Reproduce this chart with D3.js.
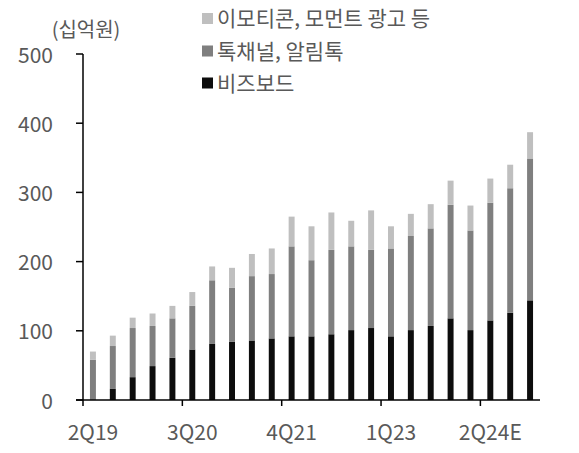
<!DOCTYPE html>
<html>
<head>
<meta charset="utf-8">
<script src="https://cdn.jsdelivr.net/npm/d3@7"></script>
<style>
  html, body { margin: 0; padding: 0; background: #fff; }
  svg { display: block; }
  text { font-family: "Noto Sans CJK KR", "Noto Sans", sans-serif; fill: #595959; }
</style>
</head>
<body>
<svg id="chart" width="579" height="453"></svg>
<script>
// ---- Data ----
const quarters = ["2Q19","3Q19","4Q19","1Q20","2Q20","3Q20","4Q20","1Q21","2Q21","3Q21","4Q21",
                  "1Q22","2Q22","3Q22","4Q22","1Q23","2Q23","3Q23","4Q23","1Q24","2Q24E","3Q24E","4Q24E"];
const bizboard = [0, 16, 33, 49, 61, 73, 81, 84, 86, 89, 92, 92, 95, 101, 104, 92, 101, 107, 118, 101, 115, 126, 144];
const talkChannel = [58, 62, 71, 58, 57, 63, 92, 78, 93, 93, 130, 110, 122, 121, 113, 127, 136, 141, 164, 144, 170, 180, 205];
const emoticon = [12, 15, 15, 18, 18, 20, 20, 29, 32, 37, 43, 49, 54, 37, 57, 32, 32, 35, 35, 36, 35, 34, 38];
const seriesNames = ["비즈보드", "톡채널, 알림톡", "이모티콘, 모먼트 광고 등"];
const yTicks = [0, 100, 200, 300, 400, 500];
const xLabelEvery = 5;
const unitLabel = "(십억원)";

// ---- Layout ----
const colors = ["#0d0d0d", "#7f7f7f", "#bfbfbf"];
const svg = d3.select("#chart");
const x0 = 83, x1 = 540, yBottom = 400, yTop = 54;

const x = d3.scaleBand().domain(quarters).range([x0, x1]).paddingInner(0.7).paddingOuter(0.35);
const y = d3.scaleLinear().domain([0, 500]).range([yBottom, yTop]);

const table = quarters.map((q, i) => ({ q, s0: bizboard[i], s1: talkChannel[i], s2: emoticon[i] }));
const stacked = d3.stack().keys(["s0", "s1", "s2"])(table);

// bars
svg.append("g").selectAll("g").data(stacked).join("g")
  .attr("fill", (d, i) => colors[i])
  .selectAll("rect").data(d => d).join("rect")
  .attr("x", d => x(d.data.q))
  .attr("width", x.bandwidth())
  .attr("y", d => y(d[1]))
  .attr("height", d => Math.max(0, y(d[0]) - y(d[1])));

// y axis
const yAxis = svg.append("g");
yAxis.append("line").attr("x1", x0).attr("x2", x0).attr("y1", y(500)).attr("y2", yBottom)
  .attr("stroke", "#000").attr("stroke-width", 1.5);
yAxis.selectAll("line.tick").data(yTicks).join("line").attr("class", "tick")
  .attr("x1", x0 - 7).attr("x2", x0).attr("y1", d => y(d)).attr("y2", d => y(d))
  .attr("stroke", "#000").attr("stroke-width", 1.5);
yAxis.selectAll("text").data(yTicks).join("text")
  .attr("x", 53).attr("y", d => y(d) + 1).attr("dy", "0.36em")
  .attr("text-anchor", "end").attr("font-size", 21).text(d => d);

// x axis
const xAxis = svg.append("g");
xAxis.append("line").attr("x1", x0 - 7).attr("x2", x1).attr("y1", yBottom).attr("y2", yBottom)
  .attr("stroke", "#000").attr("stroke-width", 1.5);
const gap = (x.step() - x.bandwidth()) / 2;
const labeled = quarters.filter((q, i) => i % xLabelEvery === 0);
xAxis.selectAll("line.tick").data(labeled).join("line").attr("class", "tick")
  .attr("x1", d => x(d) - gap).attr("x2", d => x(d) - gap)
  .attr("y1", yBottom).attr("y2", yBottom + 6)
  .attr("stroke", "#000").attr("stroke-width", 1.5);
xAxis.selectAll("text").data(labeled).join("text")
  .attr("x", d => x(d) + x.bandwidth() / 2).attr("y", 432).attr("dy", "0.36em")
  .attr("text-anchor", "middle").attr("font-size", 21).text(d => d);

// unit label
svg.append("text").attr("x", 86).attr("y", 30).attr("dy", "0.36em")
  .attr("text-anchor", "middle").attr("font-size", 20).text(unitLabel);

// legend (top to bottom: emoticon, talk channel, bizboard)
const legendRows = [2, 1, 0];
const legendY = [18.5, 51, 83];
const lg = svg.append("g");
legendRows.forEach((si, r) => {
  lg.append("rect").attr("x", 202).attr("y", legendY[r] - 5.5).attr("width", 11).attr("height", 11)
    .attr("fill", colors[si]);
  lg.append("text").attr("x", 217).attr("y", legendY[r]).attr("dy", "0.36em")
    .attr("font-size", 21).text(seriesNames[si]);
});
</script>
</body>
</html>
